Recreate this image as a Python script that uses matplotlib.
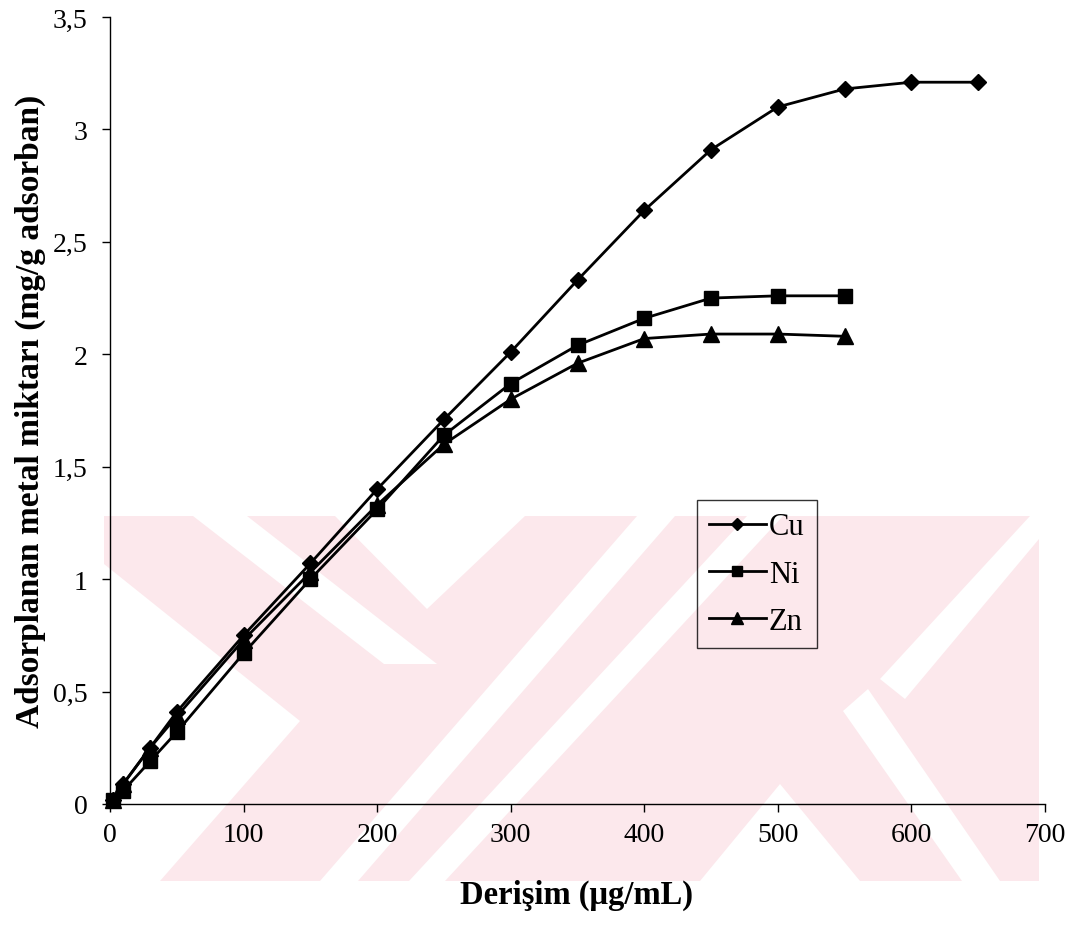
import matplotlib
matplotlib.use("Agg")
import matplotlib.pyplot as plt
from matplotlib.patches import Polygon, Rectangle
from matplotlib.ticker import FuncFormatter

# ---------------- data ----------------
conc_cu = [2, 10, 30, 50, 100, 150, 200, 250, 300, 350, 400, 450, 500, 550, 600, 650]
cu = [0.02, 0.09, 0.25, 0.41, 0.75, 1.07, 1.40, 1.71, 2.01, 2.33, 2.64, 2.91, 3.10, 3.18, 3.21, 3.21]
conc_ni = [2, 10, 30, 50, 100, 150, 200, 250, 300, 350, 400, 450, 500, 550]
ni = [0.02, 0.06, 0.19, 0.32, 0.67, 1.00, 1.31, 1.64, 1.87, 2.04, 2.16, 2.25, 2.26, 2.26]
conc_zn = [2, 10, 30, 50, 100, 150, 200, 250, 300, 350, 400, 450, 500, 550]
zn = [0.02, 0.09, 0.25, 0.39, 0.73, 1.03, 1.33, 1.60, 1.80, 1.96, 2.07, 2.09, 2.09, 2.08]
series_names = ["Cu", "Ni", "Zn"]
x_ticks = [0, 100, 200, 300, 400, 500, 600, 700]
y_ticks = [0, 0.5, 1, 1.5, 2, 2.5, 3, 3.5]
x_label = "Derişim (μg/mL)"
y_label = "Adsorplanan metal miktarı (mg/g adsorban)"

W, H = 1069, 928
fig = plt.figure(figsize=(W / 100, H / 100), dpi=100)
plt.rcParams['font.family'] = ['Liberation Serif', 'DejaVu Serif']

# ---------------- background watermark (pixel coordinates, decoration) ----------------
bg = fig.add_axes([0, 0, 1, 1], zorder=-5)
bg.set_xlim(0, W)
bg.set_ylim(H, 0)
bg.axis('off')
pink = '#fce8ec'
y0, y1 = 517, 882
bg.add_patch(Rectangle((104, y0), 1039 - 104, y1 - y0, facecolor=pink, edgecolor='none'))
white_cuts = [
    [(193, y0), (247, y0), (437, 665), (384, 665)],          # left "\" stripe
    [(335, y0), (525, y0), (427, 610)],                     # top V notch
    [(104, 565), (104, y1), (160, y1), (300, 722)],          # left lower wedge
    [(320, y1), (358, y1), (675, y0), (637, y0)],            # "/" stripe
    [(409, y1), (445, y1), (783, y0), (747, y0)],            # "/" stripe
    [(700, y1), (860, y1), (780, 785)],                     # bottom notch
    [(843, 712), (868, 690), (1000, y1), (962, y1)],        # right "\" stripe
    [(880, 680), (905, 700), (1039, 540), (1039, y0), (1030, y0)],  # right "/" stripe
]
for pts in white_cuts:
    bg.add_patch(Polygon(pts, closed=True, facecolor='white', edgecolor='none'))

# ---------------- main axes ----------------
ax = fig.add_axes([110 / W, 1 - 805 / H, 935 / W, 787 / H])
ax.set_facecolor('none')

lw = 2.0
ax.plot(conc_cu, cu, color='black', lw=lw, marker='D', ms=8, label=series_names[0], clip_on=False)
ax.plot(conc_ni, ni, color='black', lw=lw, marker='s', ms=10, label=series_names[1], clip_on=False)
ax.plot(conc_zn, zn, color='black', lw=lw, marker='^', ms=11, label=series_names[2], clip_on=False)

ax.set_xlim(0, 700)
ax.set_ylim(0, 3.5)
ax.set_xticks(x_ticks)
ax.set_yticks(y_ticks)
ax.yaxis.set_major_formatter(FuncFormatter(lambda v, p: ('%g' % v).replace('.', ',')))

for s in ['top', 'right']:
    ax.spines[s].set_visible(False)
for s in ['left', 'bottom']:
    ax.spines[s].set_linewidth(1.0)
ax.tick_params(axis='both', direction='out', length=6, width=1.0, labelsize=20, colors='black')
ax.tick_params(axis='x', pad=7)
ax.tick_params(axis='y', pad=10)

ax.set_xlabel(x_label, fontsize=23.5, fontweight='bold')
ax.set_ylabel(y_label, fontsize=24, fontweight='bold')
ax.xaxis.set_label_coords((577 - 110) / 935, (805 - 895) / 787)
ax.yaxis.set_label_coords((30 - 110) / 935, 0.5)
ax.xaxis.label.set_va('center')
ax.yaxis.label.set_va('center')

leg = ax.legend(loc='upper left', bbox_to_anchor=((697 - 110) / 935, (805 - 501) / 787),
                borderaxespad=0, fontsize=22, frameon=True, fancybox=False,
                edgecolor='black', handlelength=1.85, handletextpad=0.1,
                labelspacing=0.6, borderpad=0.4, markerscale=0.75)
leg.get_frame().set_facecolor('none')
leg.get_frame().set_linewidth(1.0)

fig.savefig('out.png', dpi=100)
